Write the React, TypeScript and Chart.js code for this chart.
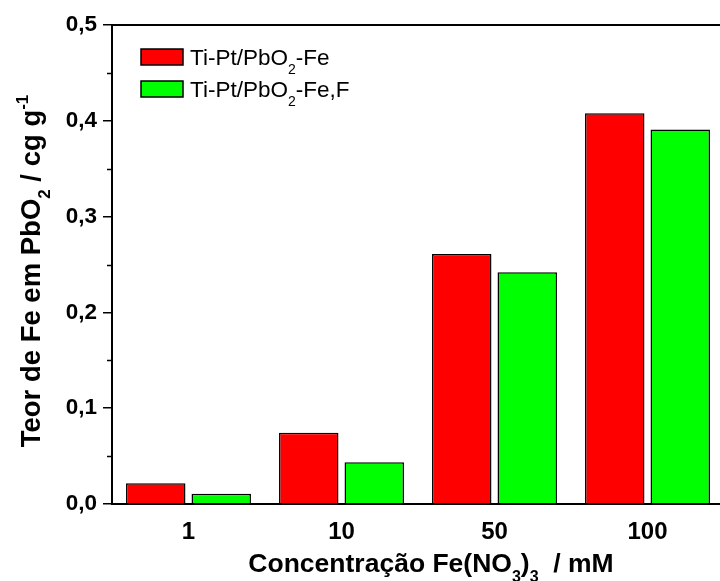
import { useEffect, useRef } from 'react';
import { Chart, registerables } from 'chart.js';

Chart.register(...registerables);

const CATEGORIES = ['1', '10', '50', '100'];
const SERIES_NAMES = ['Ti-Pt/PbO₂-Fe', 'Ti-Pt/PbO₂-Fe,F'];
const SERIES_FE = [0.0216, 0.0744, 0.261, 0.408];
const SERIES_FEF = [0.0108, 0.0435, 0.242, 0.391];
const Y_MIN = 0;
const Y_MAX = 0.5;
const Y_STEP = 0.1;
const Y_MINOR = [0.05, 0.15, 0.25, 0.35, 0.45];
const X_TITLE = 'Concentração Fe(NO₃)₃  / mM';
const Y_TITLE = 'Teor de Fe em PbO₂ / cg g⁻¹';
const COLORS = ['#ff0000', '#00ff00'];
const FAMILY = '"Liberation Sans", Arial, sans-serif';

type Seg = { t: string; k: 'n' | 'sub' | 'sup' };
const SUBS = '₀₁₂₃₄₅₆₇₈₉';
const SUPS: Record<string, string> = { '⁻': '-', '⁰': '0', '¹': '1', '²': '2', '³': '3' };

function parseRich(s: string): Seg[] {
  const out: Seg[] = [];
  for (const ch of Array.from(s)) {
    let k: Seg['k'] = 'n';
    let t = ch;
    const si = SUBS.indexOf(ch);
    if (si >= 0) { k = 'sub'; t = String(si); }
    else if (SUPS[ch] !== undefined) { k = 'sup'; t = SUPS[ch]; }
    const last = out[out.length - 1];
    if (last && last.k === k) last.t += t; else out.push({ t, k });
  }
  return out;
}

function segFont(seg: Seg, size: number, weight: string) {
  const s = seg.k === 'n' ? size : Math.round(size * 0.62);
  return `${weight} ${s}px ${FAMILY}`;
}

function measureRich(ctx: CanvasRenderingContext2D, segs: Seg[], size: number, weight: string) {
  let w = 0;
  for (const seg of segs) {
    ctx.font = segFont(seg, size, weight);
    w += ctx.measureText(seg.t).width;
  }
  return w;
}

function drawRich(ctx: CanvasRenderingContext2D, text: string, x: number, y: number, size: number, weight: string, align: 'left' | 'center') {
  const segs = parseRich(text);
  const total = measureRich(ctx, segs, size, weight);
  let cx = align === 'center' ? x - total / 2 : x;
  ctx.textAlign = 'left';
  ctx.textBaseline = 'alphabetic';
  ctx.fillStyle = '#000';
  for (const seg of segs) {
    ctx.font = segFont(seg, size, weight);
    const dy = seg.k === 'sub' ? size * 0.38 : seg.k === 'sup' ? -size * 0.45 : 0;
    ctx.fillText(seg.t, cx, y + dy);
    cx += ctx.measureText(seg.t).width;
  }
}

const decorPlugin = {
  id: 'decor',
  afterDraw(chart: any) {
    const ctx: CanvasRenderingContext2D = chart.ctx;
    const { left, right, top, bottom } = chart.chartArea;
    const yScale = chart.scales.y;
    ctx.save();
    // frame lines
    ctx.strokeStyle = '#000';
    ctx.lineWidth = 2;
    ctx.beginPath();
    ctx.moveTo(left, top);
    ctx.lineTo(right, top);
    ctx.moveTo(left, top - 1);
    ctx.lineTo(left, bottom + 1);
    ctx.moveTo(left - 1, bottom);
    ctx.lineTo(right, bottom);
    ctx.stroke();
    // minor ticks
    ctx.lineWidth = 1.5;
    ctx.beginPath();
    for (const v of Y_MINOR) {
      const py = Math.round(yScale.getPixelForValue(v)) + 0.5;
      ctx.moveTo(left - 5, py);
      ctx.lineTo(left, py);
    }
    ctx.stroke();
    // legend
    const rows = [57, 89];
    chart.data.datasets.forEach((ds: any, i: number) => {
      const cy = rows[i];
      ctx.fillStyle = ds.backgroundColor;
      ctx.fillRect(141, cy - 8, 42, 16);
      ctx.strokeStyle = '#000';
      ctx.lineWidth = 1.5;
      ctx.strokeRect(141, cy - 8, 42, 16);
      drawRich(ctx, ds.label, 190, cy + 8, 22.5, 'normal', 'left');
    });
    // axis titles
    drawRich(ctx, X_TITLE, 431, 572, 26.5, 'bold', 'center');
    ctx.save();
    ctx.translate(40, 271);
    ctx.rotate(-Math.PI / 2);
    drawRich(ctx, Y_TITLE, 0, 0, 27.5, 'bold', 'center');
    ctx.restore();
    ctx.restore();
  },
};

export default function App() {
  const ref = useRef<HTMLCanvasElement | null>(null);
  useEffect(() => {
    if (!ref.current) return;
    const chart = new Chart(ref.current, {
      type: 'bar',
      data: {
        labels: CATEGORIES,
        datasets: [
          { label: SERIES_NAMES[0], data: SERIES_FE, backgroundColor: COLORS[0], borderColor: '#000', borderWidth: 1.5 },
          { label: SERIES_NAMES[1], data: SERIES_FEF, backgroundColor: COLORS[1], borderColor: '#000', borderWidth: 1.5 },
        ],
      },
      options: {
        responsive: false,
        maintainAspectRatio: false,
        devicePixelRatio: 1,
        animation: false,
        layout: { padding: { top: 25, left: 0, right: 0, bottom: 0 } },
        datasets: { bar: { categoryPercentage: 0.856, barPercentage: 0.908 } },
        plugins: { legend: { display: false }, tooltip: { enabled: false } },
        scales: {
          x: {
            type: 'category',
            offset: true,
            grid: { display: false, drawTicks: false },
            border: { display: false },
            ticks: { color: '#000', font: { family: FAMILY, size: 24, weight: 'bold' }, padding: 14, maxRotation: 0 },
            afterFit: (scale: any) => { scale.height = 77; },
          },
          y: {
            min: Y_MIN,
            max: Y_MAX,
            grid: { drawOnChartArea: false, drawTicks: true, tickLength: 9, color: '#000', lineWidth: 1.5 },
            border: { display: false },
            ticks: {
              stepSize: Y_STEP,
              color: '#000',
              padding: 6,
              font: { family: FAMILY, size: 22.5, weight: 'bold' },
              callback: (v: any) => Number(v).toFixed(1).replace('.', ','),
            },
            afterFit: (scale: any) => { scale.width = 112; },
          },
        },
      },
      plugins: [decorPlugin],
    });
    return () => chart.destroy();
  }, []);
  return (
    <div style={{ position: 'absolute', left: 0, top: 0, width: 720, height: 581, overflow: 'hidden', background: '#fff' }}>
      <canvas ref={ref} width={724} height={581} style={{ display: 'block' }} />
    </div>
  );
}
